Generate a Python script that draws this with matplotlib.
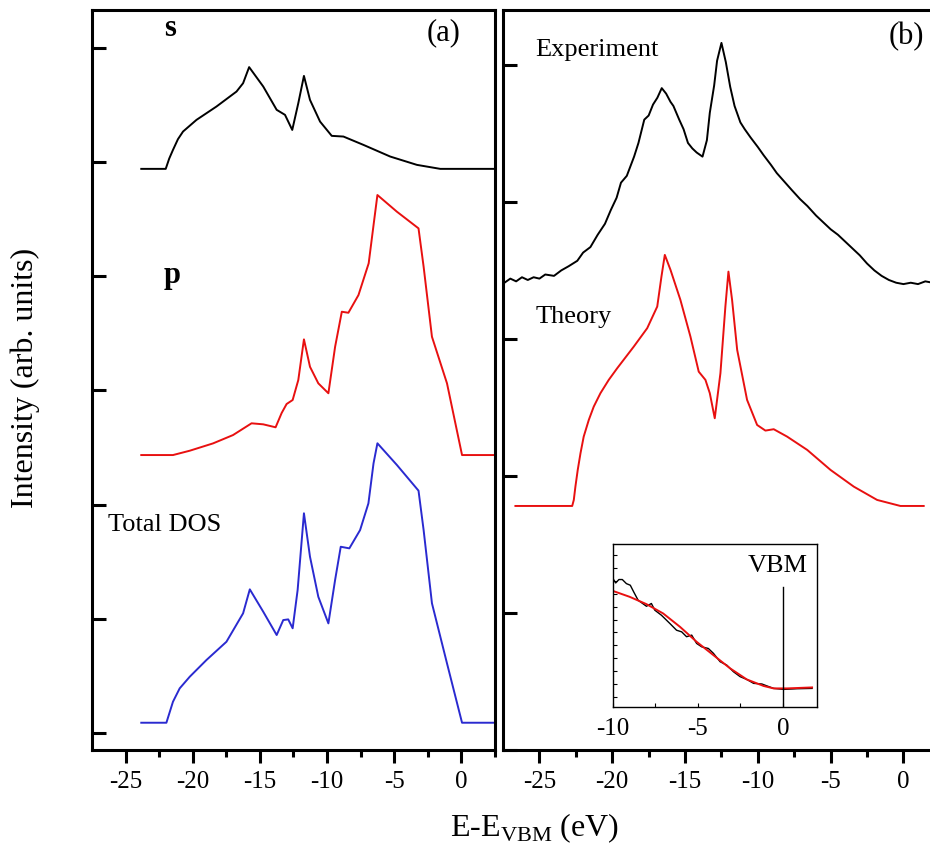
import matplotlib
matplotlib.use("Agg")
import matplotlib.pyplot as plt
import numpy as np

plt.rcParams['font.family'] = ['Liberation Serif', 'DejaVu Serif']
plt.rcParams['mathtext.fontset'] = 'custom'
plt.rcParams['mathtext.rm'] = 'Liberation Serif'
plt.rcParams['axes.unicode_minus'] = False

# ---- panel (a): projected DOS, curves stacked with offsets ----
s_x = [-23.83, -22.01, -21.75, -21.47, -21.1, -20.72, -19.72, -18.23, -16.74, -16.25, -15.80, -14.75,
       -13.75, -13.13, -12.59, -12.14, -11.72, -11.27, -10.52, -9.65, -8.78, -7.29,
       -5.30, -3.31, -1.57, 2.41]
s_y = [0.0, 0.0, 0.09, 0.166, 0.26, 0.327, 0.429, 0.546, 0.677, 0.750, 0.891, 0.721,
       0.517, 0.473, 0.341, 0.575, 0.814, 0.604, 0.414, 0.289, 0.283, 0.210,
       0.108, 0.035, 0.0, 0.0]
s_offset = 4.94

p_x = [-23.83, -21.47, -20.22, -18.49, -17.00, -15.62, -14.75, -13.83, -13.38, -13.01,
       -12.56, -12.14, -11.72, -11.27, -10.65, -9.90, -9.40, -8.90, -8.41, -7.66,
       -6.90, -6.49, -6.25, -4.80, -3.19, -2.81, -2.19, -1.07, 0.05, 2.54]
p_y = [0.0, 0.0, 0.038, 0.102, 0.175, 0.278, 0.269, 0.243, 0.368, 0.447,
       0.482, 0.657, 1.013, 0.773, 0.628, 0.541, 0.948, 1.255, 1.246, 1.401,
       1.679, 2.058, 2.277, 2.131, 1.985, 1.649, 1.036, 0.628, 0.0, 0.0]
p_offset = 2.434

tot_x = [-23.83, -21.96, -21.47, -20.97, -20.22, -18.98, -17.49, -16.25, -15.75, -14.75,
         -13.75, -13.26, -12.89, -12.56, -12.19, -11.72, -11.27, -10.65, -9.90, -9.40,
         -8.98, -8.34, -7.54, -6.92, -6.54, -6.25, -4.80, -3.19, -2.81, -2.19,
         -1.07, 0.05, 2.54]
tot_y = [0.0, 0.0, 0.184, 0.301, 0.403, 0.549, 0.709, 0.958, 1.168, 0.972,
         0.768, 0.899, 0.905, 0.827, 1.162, 1.834, 1.454, 1.103, 0.870, 1.250,
         1.541, 1.527, 1.687, 1.921, 2.271, 2.447, 2.257, 2.032, 1.687, 1.046,
         0.520, 0.0, 0.0]
tot_offset = 0.09

# ---- panel (b): experiment vs theory ----
exp_x = [-27.4, -27.0, -26.6, -26.2, -25.8, -25.4, -25.0, -24.6, -24.0, -23.5,
         -23.0, -22.4, -22.0, -21.5, -21.0, -20.5, -20.1, -19.7, -19.4, -19.0,
         -18.5, -18.2, -17.8, -17.5, -17.2, -16.9, -16.6, -16.3, -16.0, -15.8,
         -15.4, -15.1, -14.8, -14.5, -14.2, -13.8, -13.5, -13.3, -13.0, -12.8,
         -12.5, -12.2, -11.9, -11.6, -11.2, -10.9, -10.5, -10.0, -9.6, -9.1,
         -8.7, -8.2, -7.7, -7.1, -6.6, -6.0, -5.5, -5.0, -4.5, -4.0,
         -3.6, -3.0, -2.5, -2.0, -1.5, -1.0, -0.5, 0.0, 0.5, 1.0,
         1.5, 2.0, 2.5]
exp_y = [3.41, 3.44, 3.42, 3.45, 3.43, 3.45, 3.44, 3.47, 3.46, 3.50,
         3.53, 3.57, 3.63, 3.67, 3.76, 3.84, 3.94, 4.03, 4.14, 4.19,
         4.33, 4.43, 4.60, 4.63, 4.71, 4.76, 4.83, 4.79, 4.73, 4.70,
         4.60, 4.53, 4.43, 4.39, 4.36, 4.33, 4.45, 4.65, 4.85, 5.03,
         5.16, 5.02, 4.84, 4.70, 4.58, 4.53, 4.47, 4.40, 4.34, 4.27,
         4.21, 4.15, 4.09, 4.02, 3.97, 3.90, 3.85, 3.80, 3.76, 3.71,
         3.67, 3.61, 3.55, 3.50, 3.46, 3.43, 3.41, 3.40, 3.41, 3.40,
         3.42, 3.41, 3.42]

th_x = [-26.65, -22.75, -22.64, -22.53, -22.37, -22.18, -21.96, -21.61, -21.27, -20.81,
        -20.24, -19.66, -18.52, -17.60, -16.91, -16.62, -16.39, -16.00, -15.32, -14.63,
        -14.06, -13.60, -13.30, -12.96, -12.57, -12.23, -12.02, -11.77, -11.42, -10.74,
        -10.05, -9.48, -8.91, -7.99, -6.61, -5.01, -3.41, -1.81, -0.21, 1.39]
th_y = [1.781, 1.781, 1.825, 1.922, 2.044, 2.166, 2.287, 2.409, 2.506, 2.604,
        2.701, 2.786, 2.944, 3.078, 3.236, 3.455, 3.613, 3.504, 3.285, 3.017,
        2.761, 2.701, 2.604, 2.421, 2.750, 3.236, 3.491, 3.285, 2.920, 2.555,
        2.372, 2.331, 2.341, 2.287, 2.190, 2.044, 1.922, 1.825, 1.781, 1.781]

# ---- inset near the VBM ----
in_th_x = [-10, -9.02, -8.03, -7.05, -6.06, -5.08, -4.09, -3.11, -2.13, -1.14, -0.55, 0.24, 1.71]
in_th_y = [0.714, 0.678, 0.633, 0.576, 0.494, 0.402, 0.320, 0.239, 0.171, 0.131, 0.116, 0.116, 0.122]
in_exp_x = [-10, -9.84, -9.65, -9.45, -9.21, -8.98, -8.78, -8.52, -8.03, -7.74,
            -7.54, -7.15, -6.65, -6.26, -5.96, -5.67, -5.37, -5.08, -4.78, -4.39,
            -4.09, -3.70, -3.31, -2.91, -2.52, -2.13, -1.73, -1.24, -0.94, -0.55,
            0.04, 0.83, 1.71]
in_exp_y = [0.790, 0.763, 0.784, 0.784, 0.759, 0.749, 0.708, 0.657, 0.620, 0.637,
            0.596, 0.565, 0.514, 0.473, 0.463, 0.433, 0.443, 0.392, 0.371, 0.361,
            0.331, 0.280, 0.259, 0.218, 0.188, 0.171, 0.147, 0.143, 0.131, 0.116,
            0.110, 0.114, 0.116]

blue = '#2a2ad0'
red = '#e81010'

fig = plt.figure(figsize=(9.3, 8.56), dpi=100)
ax_a = fig.add_axes([0.0989, 0.1238, 0.4333, 0.8645])
ax_b = fig.add_axes([0.5409, 0.1238, 0.4697, 0.8645])
ax_in = fig.add_axes([0.6591, 0.1737, 0.2194, 0.1904])

lw = 1.4
ax_a.plot(s_x, np.array(s_y) + s_offset, color='black', lw=lw)
ax_a.plot(p_x, np.array(p_y) + p_offset, color=red, lw=lw)
ax_a.plot(tot_x, np.array(tot_y) + tot_offset, color=blue, lw=lw)
ax_a.set_xlim(-27.5, 2.5)
ax_a.set_ylim(-0.149, 6.331)
ax_a.set_yticks(range(7))
ax_a.text(-21.7, 6.17, 's', fontsize=22, fontweight='bold', ha='center', va='center')
ax_a.text(-21.5, 4.01, 'p', fontsize=22, fontweight='bold', ha='center', va='center')
ax_a.text(-26.3, 1.82, 'Total DOS', fontsize=19, ha='left', va='center')
ax_a.text(0.873, 0.969, '(a)', transform=ax_a.transAxes, fontsize=22, ha='center', va='center')

ax_b.plot(exp_x, exp_y, color='black', lw=lw)
ax_b.plot(th_x, th_y, color=red, lw=lw)
ax_b.set_xlim(-27.5, 2.5)
ax_b.set_ylim(0, 5.4)
ax_b.set_yticks(range(6))
ax_b.text(-25.27, 5.11, 'Experiment', fontsize=19, ha='left', va='center')
ax_b.text(-25.27, 3.16, 'Theory', fontsize=19, ha='left', va='center')
ax_b.text(0.924, 0.9635, '(b)', transform=ax_b.transAxes, fontsize=22, ha='center', va='center')

for ax in (ax_a, ax_b):
    for sp in ax.spines.values():
        sp.set_linewidth(2.2)
    ax.set_xticks([-25, -20, -15, -10, -5, 0])
    ax.set_xticks([-22.5, -17.5, -12.5, -7.5, -2.5, 2.5], minor=True)
    ax.tick_params(axis='x', which='major', direction='out', length=9, width=2.2, labelsize=18, pad=6)
    ax.tick_params(axis='x', which='minor', direction='out', length=5, width=2.2)
    ax.tick_params(axis='y', which='major', direction='in', length=10, width=2.2, labelleft=False)

ax_in.plot(in_exp_x, in_exp_y, color='black', lw=1.0)
ax_in.plot(in_th_x, in_th_y, color=red, lw=1.4)
ax_in.plot([0, 0], [0.01, 0.74], color='black', lw=1.0)
ax_in.text(-0.3, 0.87, 'VBM', fontsize=19, ha='center', va='center')
ax_in.set_xlim(-10, 2)
ax_in.set_ylim(0, 1)
ax_in.set_xticks([-10, -5, 0])
ax_in.set_xticks([-7.5, -2.5], minor=True)
ax_in.set_yticks([0.065 + 0.0789 * k for k in range(12)])
ax_in.tick_params(axis='x', which='both', direction='in', length=3, width=0.8, labelsize=18, pad=8)
ax_in.tick_params(axis='y', direction='in', length=3, width=0.8, labelleft=False)
for sp in ax_in.spines.values():
    sp.set_linewidth(1.0)

fig.text(535 / 930, 1 - 828 / 856, 'E-E$_{\\mathrm{VBM}}$ (eV)', fontsize=23, ha='center', va='center')
fig.text(25 / 930, 1 - 378 / 856, 'Intensity (arb. units)', fontsize=23, rotation=90,
         ha='center', va='center')

fig.savefig('out.png', dpi=100)
